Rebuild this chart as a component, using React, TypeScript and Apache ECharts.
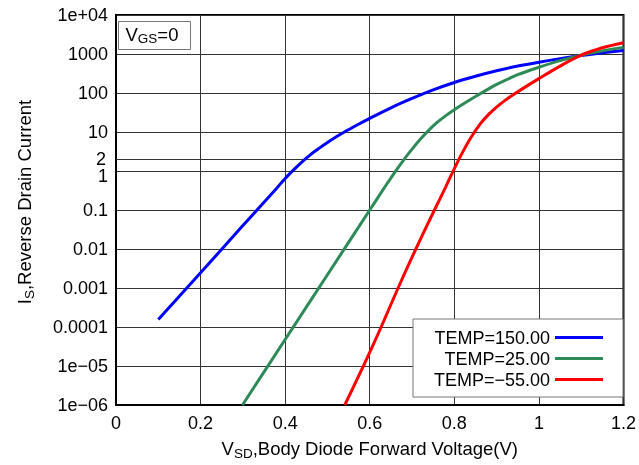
import React, { useEffect, useRef } from "react";
import * as echarts from "echarts";

// ---- data ----
const seriesNames = ["TEMP=150.00", "TEMP=25.00", "TEMP=\u221255.00"];

const hotX = [0.1, 0.2, 0.3, 0.35, 0.38, 0.4, 0.42, 0.44, 0.46, 0.48, 0.5, 0.52, 0.54, 0.57, 0.6, 0.65, 0.7, 0.75, 0.8, 0.85, 0.9, 0.95, 1.0, 1.05, 1.1, 1.15, 1.2];
const hotY = [1.55e-4, 2.45e-3, 0.0398, 0.158, 0.363, 0.646, 1.07, 1.72, 2.63, 3.8, 5.37, 7.41, 10, 15.1, 22.4, 41.7, 72.4, 120, 186, 269, 372, 490, 617, 759, 912, 1072, 1230];

const roomX = [0.299, 0.4, 0.5, 0.6, 0.62, 0.64, 0.66, 0.68, 0.7, 0.72, 0.74, 0.76, 0.78, 0.8, 0.82, 0.85, 0.88, 0.9, 0.95, 1.0, 1.05, 1.1, 1.15, 1.2];
const roomY = [1e-6, 4.79e-5, 2.19e-3, 0.1, 0.214, 0.457, 0.955, 1.91, 3.63, 6.61, 11.2, 17.8, 26.3, 37.2, 51.3, 81.3, 126, 166, 295, 457, 676, 933, 1202, 1479];

const coldX = [0.541, 0.585, 0.627, 0.667, 0.709, 0.753, 0.78, 0.8, 0.82, 0.84, 0.86, 0.88, 0.9, 0.92, 0.94, 0.97, 1.0, 1.05, 1.1, 1.15, 1.2];
const coldY = [1e-6, 1e-5, 1e-4, 1e-3, 0.01, 0.1, 0.398, 1.15, 3.09, 7.41, 15.5, 27.5, 43.7, 64.6, 91.2, 148, 234, 490, 933, 1445, 1950];

const xTickLabels = ["0", "0.2", "0.4", "0.6", "0.8", "1", "1.2"];
const yTickLabels = ["1e\u221206", "1e\u221205", "0.0001", "0.001", "0.01", "0.1", "1", "10", "100", "1000", "1e+04"];
const extraGridValue = 2;
const extraGridLabel = "2";

const FONT = "'Liberation Sans', Arial, Helvetica, sans-serif";

const pairs = (xs: number[], ys: number[]) => xs.map((x, i) => [x, ys[i]]);

export default function App() {
  const ref = useRef<HTMLDivElement>(null);
  useEffect(() => {
    if (!ref.current) return;
    const chart = echarts.init(ref.current, undefined, { renderer: "svg" });
    const lineSeries = (name: string, xs: number[], ys: number[], color: string, extra: any = {}) => ({
      name,
      type: "line",
      data: pairs(xs, ys),
      smooth: 0.3,
      symbol: "none",
      clip: true,
      lineStyle: { color, width: 3 },
      itemStyle: { color },
      ...extra,
    });
    chart.setOption({
      animation: false,
      textStyle: { fontFamily: FONT },
      grid: {
        left: 116,
        right: 15,
        top: 15,
        bottom: 58,
        show: true,
        borderColor: "#000",
        borderWidth: 2,
        backgroundColor: "transparent",
      },
      xAxis: {
        type: "value",
        min: 0,
        max: 1.2,
        interval: 0.2,
        axisLine: { show: true, lineStyle: { color: "#000", width: 2 } },
        axisTick: { show: false },
        splitLine: { show: true, lineStyle: { color: "#333", width: 1 } },
        axisLabel: {
          color: "#000",
          fontSize: 18,
          fontFamily: FONT,
          margin: 9,
          showMinLabel: true,
          showMaxLabel: true,
          formatter: (v: number) => xTickLabels[Math.round(v / 0.2)] ?? "",
        },
        name: "{m|V}{s|SD}{m|,Body Diode Forward Voltage(V)}",
        nameLocation: "middle",
        nameGap: 31,
        nameTextStyle: {
          color: "#000",
          fontFamily: FONT,
          rich: {
            m: { fontSize: 18.5, lineHeight: 24, color: "#000", fontFamily: FONT },
            s: { fontSize: 13.5, lineHeight: 13, verticalAlign: "bottom", color: "#000", fontFamily: FONT },
          },
        },
      },
      yAxis: {
        type: "log",
        logBase: 10,
        min: 1e-6,
        max: 1e4,
        interval: 1,
        splitNumber: 10,
        axisLine: { show: true, lineStyle: { color: "#000", width: 2 } },
        axisTick: { show: false },
        splitLine: { show: true, lineStyle: { color: "#333", width: 1 } },
        minorTick: { show: false },
        axisLabel: {
          color: "#000",
          fontSize: 18,
          fontFamily: FONT,
          margin: 8,
          formatter: (v: number) => {
            const e = Math.round(Math.log10(v));
            const t = yTickLabels[e + 6] ?? "";
            return e === 0 ? "{low|" + t + "}" : t;
          },
          rich: {
            low: { fontSize: 18, lineHeight: 16, padding: [10, 0, 0, 0], color: "#000", fontFamily: FONT },
          },
        },
      },
      legend: {
        show: true,
        orient: "vertical",
        align: "right",
        right: 16,
        bottom: 68,
        icon: "rect",
        itemWidth: 48,
        itemHeight: 3,
        itemGap: 0,
        padding: [8, 20, 7, 9],
        backgroundColor: "#fff",
        borderColor: "#777",
        borderWidth: 1,
        borderRadius: 0,
        selectedMode: false,
        textStyle: { fontSize: 18, lineHeight: 21, color: "#000", fontFamily: FONT, width: 128, align: "right" },
        data: seriesNames,
      },
      graphic: [
        {
          type: "group",
          left: 118,
          top: 21,
          children: [
            {
              type: "rect",
              shape: { x: 0, y: 0, width: 72, height: 28 },
              style: { fill: "#fff", stroke: "#777", lineWidth: 1 },
            },
            {
              type: "text",
              x: 7,
              y: 13,
              style: {
                text: "{m|V}{s|GS}{m|=0}",
                verticalAlign: "middle",
                rich: {
                  m: { fontSize: 18.5, lineHeight: 22, fill: "#000", fontFamily: FONT },
                  s: { fontSize: 13.5, lineHeight: 13, verticalAlign: "bottom", fill: "#000", fontFamily: FONT },
                },
              },
            },
          ],
        },
        {
          type: "text",
          x: 24,
          y: 202,
          rotation: Math.PI / 2,
          style: {
            text: "{m|I}{s|S}{m|,Reverse Drain Current}",
            align: "center",
            verticalAlign: "middle",
            rich: {
              m: { fontSize: 18.5, lineHeight: 24, fill: "#000", fontFamily: FONT },
              s: { fontSize: 13.5, lineHeight: 13, verticalAlign: "bottom", fill: "#000", fontFamily: FONT },
            },
          },
        },
      ],
      series: [
        lineSeries(seriesNames[0], hotX, hotY, "#0000ff", {
          markLine: {
            silent: true,
            symbol: "none",
            z: 1,
            animation: false,
            lineStyle: { color: "#333", width: 1, type: "solid" },
            label: {
              show: true,
              position: "start",
              distance: 10,
              formatter: extraGridLabel,
              fontSize: 18,
              lineHeight: 16,
              padding: [0, 0, 4, 0],
              color: "#000",
              fontFamily: FONT,
            },
            emphasis: { disabled: true },
            data: [{ yAxis: extraGridValue }],
          },
        }),
        lineSeries(seriesNames[1], roomX, roomY, "#2e8b57"),
        lineSeries(seriesNames[2], coldX, coldY, "#ff0000"),
      ],
    });
    return () => chart.dispose();
  }, []);
  return <div ref={ref} style={{ position: "fixed", left: 0, top: 0, width: 639, height: 465 }} />;
}
